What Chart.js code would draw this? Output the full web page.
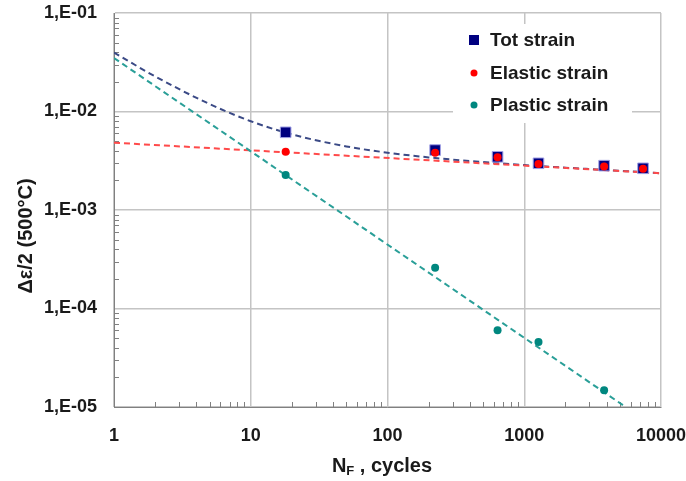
<!DOCTYPE html>
<html>
<head>
<meta charset="utf-8">
<script src="https://cdn.jsdelivr.net/npm/chart.js@4.4.1/dist/chart.umd.min.js"></script>
<style>
  html, body { margin: 0; padding: 0; background: #ffffff; }
  #wrap { width: 686px; height: 481px; }
</style>
</head>
<body>
<div id="wrap"><canvas id="c" width="686" height="481"></canvas></div>
<script>
// ---- data ----
const cycles        = [18, 223, 638, 1271, 3837, 7390];
const totStrain     = [6.15e-3, 4.06e-3, 3.47e-3, 2.98e-3, 2.82e-3, 2.65e-3];
const elasticStrain = [3.91e-3, 3.82e-3, 3.43e-3, 2.93e-3, 2.77e-3, 2.62e-3];
const plasticCycles = [18, 223, 638, 1271, 3837];
const plasticStrain = [2.26e-3, 2.6e-4, 6.0e-5, 4.57e-5, 1.48e-5];

// trend lines
const totFitX     = [1, 2, 5, 10, 20, 50, 100, 200, 500, 1000, 2000, 5000, 10000];
const totFitY     = [3.97e-2, 2.27e-2, 1.19e-2, 7.97e-3, 5.86e-3, 4.42e-3, 3.82e-3, 3.42e-3, 3.07e-3, 2.86e-3, 2.69e-3, 2.50e-3, 2.36e-3];
const elasticFitX = [1, 10000];
const elasticFitY = [4.82e-3, 2.36e-3];
const plasticFitX = [1, 5520];
const plasticFitY = [3.49e-2, 1e-5];

// axes
const xTickValues = [1, 10, 100, 1000, 10000];
const xTickLabels = ['1', '10', '100', '1000', '10000'];
const yTickValues = [1e-5, 1e-4, 1e-3, 1e-2, 1e-1];
const yTickLabels = ['1,E-05', '1,E-04', '1,E-03', '1,E-02', '1,E-01'];
const minorMultipliers = [2, 3, 4, 5, 6, 7, 8, 9];

const seriesLabels = ['Tot strain', 'Elastic strain', 'Plastic strain'];
const xTitleMain = 'N';
const xTitleSub = 'F';
const xTitleRest = ' , cycles';
const yTitle = 'Δε/2 (500°C)';

const pts = (xs, ys) => xs.map((x, i) => ({ x: x, y: ys[i] }));

const FONT = '"Liberation Sans", Arial, sans-serif';
const TXT = '#1a1a1a';

const extras = {
  id: 'extras',
  beforeDatasetsDraw(chart) {
    const { ctx, chartArea: a, scales: { x, y } } = chart;
    ctx.save();
    ctx.strokeStyle = '#808080';
    ctx.lineWidth = 1;
    for (let d = 0; d < yTickValues.length - 1; d++) {
      minorMultipliers.forEach(m => {
        const py = Math.round(y.getPixelForValue(yTickValues[d] * m)) + 0.5;
        ctx.beginPath(); ctx.moveTo(a.left, py); ctx.lineTo(a.left + 5, py); ctx.stroke();
      });
    }
    for (let d = 0; d < xTickValues.length - 1; d++) {
      minorMultipliers.forEach(m => {
        const px = Math.round(x.getPixelForValue(xTickValues[d] * m)) + 0.5;
        ctx.beginPath(); ctx.moveTo(px, a.bottom); ctx.lineTo(px, a.bottom - 5); ctx.stroke();
      });
    }
    const bx = a.right - 208, by = a.top + 11, bw = 179, bh = 99;
    ctx.fillStyle = '#ffffff';
    ctx.fillRect(bx, by, bw, bh);
    ctx.restore();
  },
  afterDraw(chart) {
    const { ctx, chartArea: a } = chart;
    ctx.save();
    const bx = a.right - 208, by = a.top + 11;
    const rows = [16, 49, 81];
    ctx.textBaseline = 'middle';
    ctx.textAlign = 'left';
    ctx.font = 'bold 19px ' + FONT;
    chart.data.datasets.slice(0, 3).forEach((ds, i) => {
      const cx = bx + 21, cy = by + rows[i];
      ctx.fillStyle = ds.backgroundColor;
      if (ds.pointStyle === 'rect') {
        ctx.fillRect(cx - 5, cy - 5, 10, 10);
      } else {
        ctx.beginPath(); ctx.arc(cx, cy, 3.5, 0, Math.PI * 2); ctx.fill();
      }
      ctx.fillStyle = TXT;
      ctx.fillText(ds.label, bx + 37, cy + 1);
    });
    ctx.save();
    ctx.translate(26, 236);
    ctx.rotate(-Math.PI / 2);
    ctx.textAlign = 'center';
    ctx.font = 'bold 20px ' + FONT;
    ctx.fillStyle = TXT;
    ctx.fillText(yTitle, 0, 0);
    ctx.restore();
    const big = 'bold 20px ' + FONT, small = 'bold 13px ' + FONT;
    ctx.font = big; const w1 = ctx.measureText(xTitleMain).width; const w3 = ctx.measureText(xTitleRest).width;
    ctx.font = small; const w2 = ctx.measureText(xTitleSub).width;
    let sx = 382 - (w1 + w2 + w3) / 2;
    const ty = 466;
    ctx.fillStyle = TXT;
    ctx.textAlign = 'left';
    ctx.font = big; ctx.fillText(xTitleMain, sx, ty); sx += w1;
    ctx.font = small; ctx.fillText(xTitleSub, sx, ty + 5); sx += w2;
    ctx.font = big; ctx.fillText(xTitleRest, sx, ty);
    ctx.restore();
  }
};

new Chart(document.getElementById('c'), {
  type: 'scatter',
  data: {
    datasets: [
      { label: seriesLabels[0], data: pts(cycles, totStrain), pointStyle: 'rect',
        backgroundColor: '#000080', borderColor: '#a0a0e6', borderWidth: 1,
        pointRadius: 7.5, order: 3 },
      { label: seriesLabels[1], data: pts(cycles, elasticStrain), pointStyle: 'circle',
        backgroundColor: '#ff0000', borderColor: '#ff0000', borderWidth: 0,
        pointRadius: 4, order: 2 },
      { label: seriesLabels[2], data: pts(plasticCycles, plasticStrain), pointStyle: 'circle',
        backgroundColor: '#00877f', borderColor: '#00877f', borderWidth: 0,
        pointRadius: 4, order: 1 },
      { label: 'tot fit', data: pts(totFitX, totFitY), showLine: true, pointRadius: 0,
        borderColor: '#3b4a86', borderWidth: 2, borderDash: [6, 4],
        cubicInterpolationMode: 'monotone', order: 6 },
      { label: 'elastic fit', data: pts(elasticFitX, elasticFitY), showLine: true, pointRadius: 0,
        borderColor: '#ff4a4a', borderWidth: 2, borderDash: [6, 4], order: 5 },
      { label: 'plastic fit', data: pts(plasticFitX, plasticFitY), showLine: true, pointRadius: 0,
        borderColor: '#2a9f98', borderWidth: 2, borderDash: [6, 4], order: 4 }
    ]
  },
  options: {
    responsive: false,
    animation: false,
    clip: 0,
    layout: { padding: { left: 0, right: 25, top: 13, bottom: 0 } },
    plugins: { legend: { display: false }, tooltip: { enabled: false } },
    scales: {
      x: {
        type: 'logarithmic', min: 1, max: 10000,
        afterBuildTicks: s => { s.ticks = xTickValues.map(v => ({ value: v, major: true })); },
        afterFit: s => { s.height = 74; s.paddingLeft = 0; s.paddingRight = 0; s.paddingTop = 0; s.paddingBottom = 0; },
        ticks: {
          callback: (v) => { const i = xTickValues.indexOf(v); return i >= 0 ? xTickLabels[i] : ''; },
          font: { family: FONT, size: 18, weight: 'bold' }, color: TXT, padding: 18,
          maxRotation: 0, autoSkip: false
        },
        grid: { color: '#c4c4c4', lineWidth: 1.5, drawTicks: false },
        border: { color: '#808080', width: 1 }
      },
      y: {
        type: 'logarithmic', min: 1e-5, max: 1e-1,
        afterBuildTicks: s => { s.ticks = yTickValues.map(v => ({ value: v, major: true })); },
        afterFit: s => { s.width = 114; s.paddingLeft = 0; s.paddingRight = 0; s.paddingTop = 0; s.paddingBottom = 0; },
        ticks: {
          callback: (v) => { const i = yTickValues.findIndex(t => Math.abs(t - v) / t < 1e-6); return i >= 0 ? yTickLabels[i] : ''; },
          font: { family: FONT, size: 18, weight: 'bold' }, color: TXT, padding: 17, autoSkip: false
        },
        grid: { color: '#c4c4c4', lineWidth: 1.5, drawTicks: false },
        border: { color: '#808080', width: 1 }
      }
    }
  },
  plugins: [extras]
});
</script>
</body>
</html>
